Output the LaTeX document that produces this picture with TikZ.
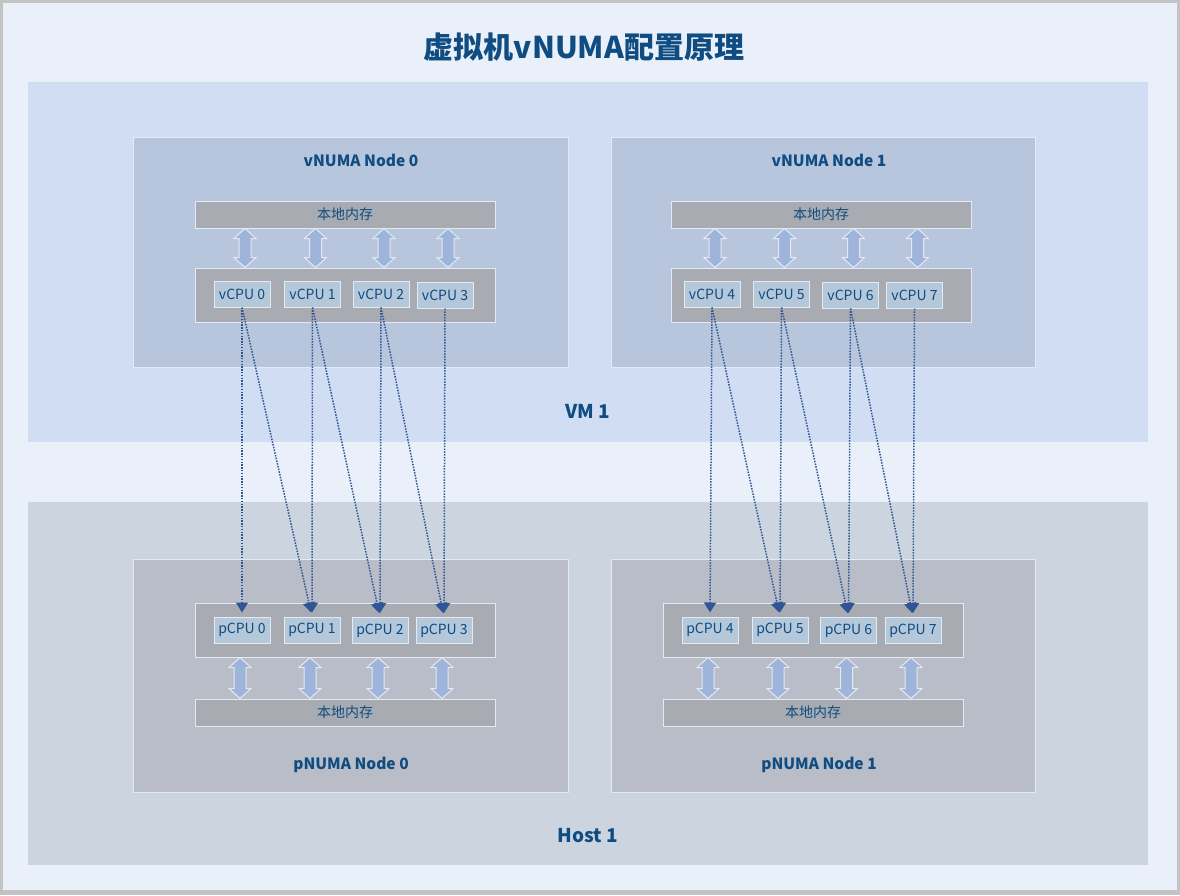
\documentclass[tikz,border=0pt]{standalone}
\usepackage{fontspec}
\setmainfont{Noto Sans CJK SC}
\usetikzlibrary{arrows.meta,calc}

\definecolor{pagebg}{HTML}{EAF0F9}
\definecolor{framegray}{HTML}{C3C3C3}
\definecolor{vmfill}{HTML}{D1DDF2}
\definecolor{vnodefill}{HTML}{B8C6DD}
\definecolor{hostfill}{HTML}{CCD4DF}
\definecolor{pnodefill}{HTML}{B8BDC7}
\definecolor{barfill}{HTML}{A8ABB2}
\definecolor{cpufill}{HTML}{B4C8DA}
\definecolor{edgewhite}{HTML}{E4EAF3}
\definecolor{labelblue}{HTML}{0F4C81}
\definecolor{mapblue}{HTML}{2F5597}
\definecolor{fatfill}{HTML}{9FB4DA}

% fat double arrow between two points (top, bottom)
\newcommand\dualarrow[2]{%
  \draw[fatarrow] let \p1=(#1), \p2=(#2) in
    (\x1,\y1) -- (\x1+11pt,\y1-10pt) -- (\x1+6pt,\y1-10pt) -- (\x1+6pt,\y2+10pt)
    -- (\x1+11pt,\y2+10pt) -- (\x1,\y2) -- (\x1-11pt,\y2+10pt) -- (\x1-6pt,\y2+10pt)
    -- (\x1-6pt,\y1-10pt) -- (\x1-11pt,\y1-10pt) -- cycle;}

\begin{document}
\begin{tikzpicture}[x=1pt,y=-1pt,
    every node/.style={text=labelblue},
    region/.style={fill=#1},
    numabox/.style={fill=#1,draw=edgewhite,line width=1pt},
    bar/.style={draw=edgewhite,fill=barfill,line width=1pt,minimum width=300pt,minimum height=#1,inner sep=0pt,font=\fontsize{14}{16}\selectfont},
    cpu/.style={draw=edgewhite,fill=cpufill,line width=1pt,minimum width=56pt,minimum height=26pt,inner sep=0pt,font=\fontsize{14}{16}\selectfont},
    boxtitle/.style={font=\fontsize{15.5}{18}\selectfont\bfseries},
    regiontitle/.style={font=\fontsize{19}{22}\selectfont\bfseries},
    fatarrow/.style={fill=fatfill,draw=edgewhite,line width=1pt,line join=miter},
    cpumap/.style={draw=mapblue,line width=1.5pt,dash pattern=on 1.5pt off 1.3pt,
      -{Triangle[width=12pt,length=10pt]},shorten >=4pt}]

% frame and background
\fill[framegray] (0,0) rectangle (1180,895);
\fill[pagebg] (3,3) rectangle (1177,890);
\node[font=\fontsize{30}{34}\selectfont\bfseries] (title) at (584,47) {虚拟机vNUMA配置原理};

% regions
\fill[region=vmfill] (28,82) rectangle (1148,442);
\fill[region=hostfill] (28,502) rectangle (1148,865);
\node[regiontitle] (vm) at (588,411) {VM 1};
\node[regiontitle] (host) at (588,836) {Host 1};

% numa boxes
\draw[numabox=vnodefill] (133,137) rectangle (568,367);
\draw[numabox=vnodefill] (611,137) rectangle (1035,367);
\draw[numabox=pnodefill] (133,559) rectangle (568,792);
\draw[numabox=pnodefill] (611,559) rectangle (1035,792);
\node[boxtitle] (vn0) at (361,160) {vNUMA Node 0};
\node[boxtitle] (vn1) at (829,160) {vNUMA Node 1};
\node[boxtitle] (pn0) at (351,765) {pNUMA Node 0};
\node[boxtitle] (pn1) at (819,765) {pNUMA Node 1};

% vNUMA node 0
\node[bar=27pt] (vmem0) at (345,214.5) {本地内存};
\node[bar=54pt] (vset0) at (345,295) {};
\node[cpu] (v0) at (242,294) {vCPU 0};
\node[cpu] (v1) at (312.5,294) {vCPU 1};
\node[cpu] (v2) at (381,294) {vCPU 2};
\node[cpu] (v3) at (445,295) {vCPU 3};

% vNUMA node 1
\node[bar=27pt] (vmem1) at (821,214.5) {本地内存};
\node[bar=54pt] (vset1) at (821,295) {};
\node[cpu] (v4) at (712,294) {vCPU 4};
\node[cpu] (v5) at (781.5,294) {vCPU 5};
\node[cpu] (v6) at (850.5,295) {vCPU 6};
\node[cpu] (v7) at (914.5,295) {vCPU 7};

% pNUMA node 0
\node[bar=54pt] (pset0) at (345,630) {};
\node[bar=27pt] (pmem0) at (345,712.5) {本地内存};
\node[cpu] (p0) at (242,630) {pCPU 0};
\node[cpu] (p1) at (312,630) {pCPU 1};
\node[cpu] (p2) at (380,630.5) {pCPU 2};
\node[cpu] (p3) at (444,630.5) {pCPU 3};

% pNUMA node 1
\node[bar=54pt] (pset1) at (813,630) {};
\node[bar=27pt] (pmem1) at (813,712.5) {本地内存};
\node[cpu] (p4) at (710,630) {pCPU 4};
\node[cpu] (p5) at (780,630) {pCPU 5};
\node[cpu] (p6) at (848.5,630.5) {pCPU 6};
\node[cpu] (p7) at (913,630.5) {pCPU 7};

% memory <-> cpu
\foreach \c/\m/\s in {v0/vmem0/vset0, v1/vmem0/vset0, v2/vmem0/vset0, v3/vmem0/vset0,
                      v4/vmem1/vset1, v5/vmem1/vset1, v6/vmem1/vset1, v7/vmem1/vset1}
  \dualarrow{$(\m.south -| \c)+(3,0)$}{$(\s.north -| \c)+(3,0)$};
\foreach \c/\m/\s in {p0/pmem0/pset0, p1/pmem0/pset0, p2/pmem0/pset0, p3/pmem0/pset0,
                      p4/pmem1/pset1, p5/pmem1/pset1, p6/pmem1/pset1, p7/pmem1/pset1}
  \dualarrow{$(\s.south -| \c)+(-2,0)$}{$(\m.north -| \c)+(-2,0)$};

% vCPU -> pCPU
\foreach \v/\p in {v0/p0, v0/p1, v1/p1, v1/p2, v2/p2, v2/p3, v3/p3,
                   v4/p4, v4/p5, v5/p5, v5/p6, v6/p6, v6/p7, v7/p7}
  \draw[cpumap] (\v.south) -- (\p.north);

\end{tikzpicture}
\end{document}
